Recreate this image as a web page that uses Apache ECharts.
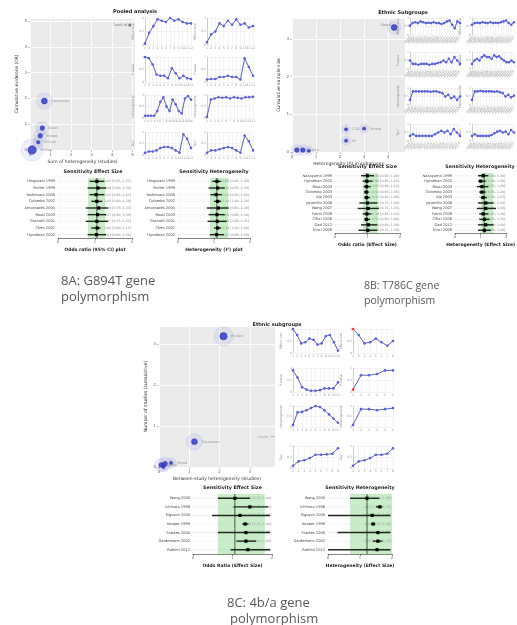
<!DOCTYPE html>
<html>
<head>
<meta charset="utf-8">
<script src="https://cdn.jsdelivr.net/npm/echarts@6/dist/echarts.min.js"></script>
<style>
  html, body { margin: 0; background: #fff; }
  #main { width: 517px; height: 625px; }
  #err { position: absolute; left: 0; top: 0; font: 14px monospace; color: red; white-space: pre-wrap; width: 517px; }
</style>
</head>
<body>
<div id="main"></div>
<div id="err"></div>
<script>
// ---------- data ----------
// bubble plots: [x, y, count]
const scatterA = [[0.1, 0, 5], [0.7, 1.9, 3], [0.6, 0.85, 2], [0.5, 0.55, 2], [0.4, 0.3, 1]];
const scatterAnames = ['Pooled', 'Caucasian', 'Asian', 'Mixed', 'African'];
const scatterB = [[0.2, 0.05, 2], [0.45, 0.05, 2], [0.7, 0.03, 1], [2.25, 0.6, 1], [2.25, 0.3, 1], [3.0, 0.62, 1], [4.25, 3.3, 3]];
const scatterBnames = ['', 'Asian', '', 'CAD', 'MI', 'Stroke', ''];
const scatterC = [[2.13, 3.2, 4], [1.17, 0.62, 3], [0.07, 0.05, 2], [0.2, 0.08, 2], [0.4, 0.1, 1], [0.15, 0, 1]];
const scatterCnames = ['Pooled', 'Caucasian', 'Asian', '', 'Mixed', ''];

// small multiples (cumulative trends), 8 per panel: row by row, left then right
const trendsA = [
  [0.05, 0.45, 0.7, 0.95, 0.9, 0.85, 1.0, 0.9, 0.95, 0.85, 0.8, 0.8],
  [0.1, 0.4, 0.5, 0.8, 0.7, 0.9, 0.75, 0.95, 0.75, 0.8, 0.65, 0.7],
  [1.0, 0.95, 0.7, 0.3, 0.25, 0.25, 0.15, 0.55, 0.35, 0.15, 0.25, 0.15, 0.12],
  [0.1, 0.12, 0.12, 0.2, 0.2, 0.25, 0.2, 0.2, 0.1, 0.95, 0.6, 0.25],
  [0.1, 0.1, 0.1, 0.1, 0.3, 0.7, 0.9, 0.5, 0.3, 0.8, 0.6, 0.3, 0.2, 0.85, 0.95, 0.8],
  [0.05, 0.8, 0.85, 0.9, 0.88, 0.9, 0.85, 0.9, 0.88, 0.85, 0.9, 0.9, 0.92],
  [0.1, 0.15, 0.15, 0.2, 0.3, 0.35, 0.35, 0.3, 0.2, 0.1, 0.9, 0.7, 0.3],
  [0.1, 0.2, 0.2, 0.25, 0.3, 0.35, 0.3, 0.2, 0.1, 0.85, 0.6, 0.2]
];
const trendsB = [
  [0.55, 0.7, 0.75, 0.7, 0.8, 0.75, 0.7, 0.72, 0.7, 0.75, 0.7, 0.7, 0.65, 0.7, 0.8, 0.85, 0.6, 0.4, 0.8, 0.7],
  [0.6, 0.7, 0.72, 0.7, 0.75, 0.72, 0.7, 0.75, 0.7, 0.72, 0.7, 0.75, 0.8, 0.85, 0.7, 0.6, 0.75],
  [0.5, 0.3, 0.3, 0.25, 0.3, 0.3, 0.3, 0.25, 0.3, 0.3, 0.35, 0.4, 0.5, 0.4, 0.6, 0.4, 0.7, 0.5, 0.3],
  [0.3, 0.5, 0.6, 0.5, 0.7, 0.8, 0.7, 0.7, 0.6, 0.8, 0.7, 0.75, 0.6, 0.5, 0.4, 0.4, 0.5, 0.4],
  [0.3, 0.8, 0.8, 0.8, 0.8, 0.8, 0.8, 0.78, 0.8, 0.8, 0.75, 0.7, 0.5, 0.6, 0.4, 0.5, 0.3, 0.5],
  [0.3, 0.8, 0.8, 0.82, 0.8, 0.8, 0.8, 0.8, 0.78, 0.8, 0.75, 0.7, 0.5, 0.6, 0.45, 0.55],
  [0.3, 0.4, 0.3, 0.3, 0.3, 0.3, 0.3, 0.3, 0.4, 0.5, 0.6, 0.5, 0.6, 0.4, 0.7, 0.5, 0.3],
  [0.3, 0.4, 0.3, 0.3, 0.3, 0.3, 0.3, 0.35, 0.45, 0.55, 0.6, 0.5, 0.55, 0.4, 0.65, 0.5]
];
const trendsC = [
  [1.0, 0.75, 0.4, 0.45, 0.6, 0.55, 0.35, 0.4, 0.7, 0.75, 0.45, 0.1],
  [1.0, 0.75, 0.4, 0.45, 0.6, 0.45, 0.3, 0.5],
  [0.9, 0.6, 0.2, 0.1, 0.05, 0.05, 0.08, 0.15, 0.15, 0.15, 0.4],
  [0.1, 0.7, 0.7, 0.75, 0.9, 0.9],
  [0.1, 0.7, 0.72, 0.8, 0.9, 1.0, 0.95, 0.8, 0.6, 0.4, 0.2],
  [0.1, 0.85, 0.85, 0.8, 0.85, 0.9],
  [0.1, 0.3, 0.35, 0.45, 0.6, 0.6, 0.62, 0.65, 0.9],
  [0.1, 0.3, 0.35, 0.45, 0.6, 0.6, 0.65, 0.9]
];
const trendNames = ['Effect size', 'P value', 'Heterogeneity', 'Tau\u00b2'];

// forest plots (sensitivity, one study omitted)
const forestAstudies = ['Hingorani 1999', 'Poirier 1999', 'Yoshimura 2000', 'Colombo 2002', 'Antoniades 2005', 'Rossi 2003', 'Granath 2001', 'Chen 2007', 'Hyndman 2002'];
const forestAest = [1.05, 1.08, 1.03, 1.05, 1.1, 1.07, 1.05, 1.06, 1.04];
const forestAlo = [0.85, 0.8, 0.85, 0.9, 0.75, 0.8, 0.75, 0.9, 0.8];
const forestAhi = [1.25, 1.3, 1.25, 1.2, 1.35, 1.3, 1.35, 1.15, 1.3];
const forestAhetEst = [1.08, 1.1, 1.06, 1.1, 1.12, 1.08, 1.09, 1.1, 1.07];
const forestAhetLo = [0.95, 0.85, 0.9, 1.0, 0.8, 0.85, 0.82, 1.0, 0.88];
const forestAhetHi = [1.2, 1.3, 1.22, 1.2, 1.4, 1.3, 1.35, 1.2, 1.28];

const forestBstudies = ['Nakayama 1999', 'Hyndman 2002', 'Rossi 2003', 'Colombo 2003', 'Alp 2003', 'Jaramillo 2006', 'Wang 2007', 'Fatini 2008', 'Ciftci 2008', 'Gad 2012', 'Kincl 2009'];
const forestBest = [1.0, 0.98, 0.97, 0.96, 0.97, 1.0, 1.02, 0.98, 0.97, 1.03, 1.01];
const forestBlo = [0.8, 0.85, 0.88, 0.9, 0.9, 0.75, 0.7, 0.85, 0.9, 0.8, 0.72];
const forestBhi = [1.2, 1.15, 1.1, 1.05, 1.08, 1.3, 1.35, 1.12, 1.08, 1.3, 1.3];
const forestBhetEst = [1.1, 1.0, 1.05, 1.05, 1.1, 1.2, 1.2, 1.1, 1.15, 1.2, 1.15];
const forestBhetLo = [0.9, 0.9, 0.85, 0.95, 1.0, 0.9, 0.85, 0.95, 0.95, 0.9, 0.9];
const forestBhetHi = [1.3, 1.2, 1.3, 1.2, 1.25, 1.5, 1.6, 1.3, 1.35, 1.5, 1.4];

const forestCstudies = ['Wang 2000', 'Ichihara 1998', 'Sigusch 2000', 'Hooper 1999', 'Fowkes 2000', 'Gardemann 2002', 'Rahimi 2012'];
const forestCest = [1.06, 1.44, 1.19, 1.32, 1.34, 1.34, 1.39];
const forestClo = [0.63, 1.02, 0.48, 1.25, 0.63, 1.1, 0.95];
const forestChi = [1.44, 1.9, 1.95, 1.4, 1.95, 1.6, 1.95];
const forestChetEst = [1.22, 1.62, 1.38, 1.41, 1.56, 1.56, 1.53];
const forestChetLo = [0.69, 1.5, 0.0, 1.35, 0.3, 1.4, 0.0];
const forestChetHi = [1.6, 1.7, 1.95, 1.48, 1.95, 1.7, 1.95];

// ---------- builders ----------
const grids = [], xAxes = [], yAxes = [], series = [], graphics = [];
const tiny = { fontFamily: 'DejaVu Sans', color: '#666' };

function text(x, y, str, size, opts) {
  graphics.push({
    type: 'text', x: x, y: y, silent: true,
    style: Object.assign({
      text: str, fontSize: size, fontFamily: 'DejaVu Sans', fill: '#222',
      align: 'center', verticalAlign: 'middle'
    }, opts || {})
  });
}

function bubble(o) {
  const g = grids.length;
  grids.push({ left: o.left, top: o.top, width: o.w, height: o.h, show: true, backgroundColor: '#ebebeb', borderWidth: 0 });
  const xi = xAxes.length, yi = yAxes.length;
  xAxes.push({
    gridIndex: g, type: 'value', min: 0, max: o.xmax, interval: 1,
    axisLine: { show: false }, axisTick: { show: true, length: 2, lineStyle: { color: '#888', width: 0.5 } },
    axisLabel: Object.assign({ fontSize: 4, margin: 3, showMaxLabel: false }, tiny),
    splitLine: { show: true, lineStyle: { color: '#fff', width: 0.9 } },
    name: o.xname, nameLocation: 'middle', nameGap: 9,
    nameTextStyle: { fontSize: 4.5, color: '#333', fontFamily: 'DejaVu Sans' }
  });
  yAxes.push({
    gridIndex: g, type: 'value', min: 0, max: o.ymax, interval: 1,
    axisLine: { show: false }, axisTick: { show: true, length: 2, lineStyle: { color: '#888', width: 0.5 } },
    axisLabel: Object.assign({ fontSize: 4, margin: 3, showMaxLabel: false }, tiny),
    splitLine: { show: true, lineStyle: { color: '#fff', width: 0.9 } },
    name: o.yname, nameLocation: 'middle', nameRotate: 90, nameGap: 11,
    nameTextStyle: { fontSize: 4.5, color: '#333', fontFamily: 'DejaVu Sans' }
  });
  series.push({
    type: 'scatter', xAxisIndex: xi, yAxisIndex: yi, silent: true, z: 2,
    data: o.pts, symbolSize: d => d[2] * o.halo + 7,
    itemStyle: { color: 'rgba(110,110,235,0.14)', borderColor: 'rgba(110,110,235,0.3)', borderWidth: 0.5 }
  });
  series.push({
    type: 'scatter', xAxisIndex: xi, yAxisIndex: yi, silent: true, z: 3,
    data: o.pts, symbolSize: d => d[2] * 1.3 + 2,
    itemStyle: { color: '#2b33c9', borderColor: '#141a7a', borderWidth: 0.5 },
    label: {
      show: true, position: 'right', distance: 4, fontSize: 3.5, color: '#888', fontFamily: 'DejaVu Sans',
      formatter: p => o.names[p.dataIndex]
    }
  });
}

function mini(left, top, w, h, vals, opt) {
  const g = grids.length;
  grids.push({ left: left, top: top, width: w, height: h, show: false });
  const xi = xAxes.length, yi = yAxes.length;
  xAxes.push({
    gridIndex: g, type: 'category', boundaryGap: false,
    data: vals.map((v, i) => String(opt.year ? 1998 + i : i + 1)),
    axisLine: { show: false }, axisTick: { show: false },
    axisLabel: Object.assign({ fontSize: 3.2, margin: 2, rotate: opt.rot || 0, interval: 0 }, tiny, { color: '#999' }),
    splitLine: { show: true, lineStyle: { color: '#e6e6e6', width: 0.5 } }
  });
  yAxes.push({
    gridIndex: g, type: 'value', min: 0, max: 1, interval: 0.5,
    axisLine: { show: true, lineStyle: { color: '#aaa', width: 0.5 } }, axisTick: { show: false },
    axisLabel: Object.assign({ fontSize: 3.2, margin: 1 }, tiny, { color: '#999' }),
    splitLine: { show: true, lineStyle: { color: '#e6e6e6', width: 0.5 } },
    name: opt.name, nameLocation: 'middle', nameRotate: 90, nameGap: 6,
    nameTextStyle: { fontSize: 3.2, color: '#888', fontFamily: 'DejaVu Sans' }
  });
  series.push({
    type: 'line', xAxisIndex: xi, yAxisIndex: yi, silent: true,
    data: vals.map((v, i) => (opt.redFirst && i === 0) ? { value: v, itemStyle: { color: '#e8403a' } } : v),
    symbol: 'circle', symbolSize: 2.6, showSymbol: true,
    lineStyle: { color: '#363a8e', width: 0.8 },
    itemStyle: { color: '#5862d6' }
  });
}

function forest(o) {
  const g = grids.length;
  grids.push({ left: o.left, top: o.top, width: o.w, height: o.h, show: false });
  const xi = xAxes.length, yi = yAxes.length;
  const notes = o.est.map((e, i) => e.toFixed(2) + ' [' + o.lo[i].toFixed(2) + ', ' + o.hi[i].toFixed(2) + ']');
  xAxes.push({
    gridIndex: g, type: 'value', min: 0, max: 2, interval: 1,
    axisLine: { show: true, lineStyle: { color: '#333', width: 0.6 } },
    axisTick: { show: true, length: 2, lineStyle: { color: '#333', width: 0.5 } },
    axisLabel: Object.assign({ fontSize: 3.8, margin: 2 }, tiny),
    splitLine: { show: false },
    name: o.xname, nameLocation: 'middle', nameGap: 9,
    nameTextStyle: { fontSize: 4.5, fontWeight: 'bold', color: '#222', fontFamily: 'DejaVu Sans' }
  });
  yAxes.push({
    gridIndex: g, type: 'category', inverse: true, data: o.labels,
    axisLine: { show: false }, axisTick: { show: false },
    axisLabel: Object.assign({ fontSize: 3.6, margin: 3, interval: 0 }, tiny, { color: '#444' })
  });
  yAxes.push({
    gridIndex: g, type: 'category', inverse: true, position: 'right', data: notes,
    axisLine: { show: false }, axisTick: { show: false },
    axisLabel: Object.assign({ fontSize: 3.2, margin: 1, inside: true, interval: 0 }, tiny, { color: '#888' })
  });
  const band = o.band, ref = o.ref;
  series.push({
    type: 'custom', xAxisIndex: xi, yAxisIndex: yi, silent: true,
    data: o.est.map((e, i) => [i, e, o.lo[i], o.hi[i]]),
    encode: { y: 0, x: [1, 2, 3] },
    renderItem: (params, api) => {
      const cs = params.coordSys;
      const row = api.value(0);
      const c = api.coord([api.value(1), row]);
      const l = api.coord([api.value(2), row]);
      const r = api.coord([api.value(3), row]);
      const b0 = api.coord([band[0], row]);
      const b1 = api.coord([band[1], row]);
      const rf = api.coord([ref, row]);
      const hh = api.size([0, 1])[1];
      return {
        type: 'group', children: [
          { type: 'rect', shape: { x: b0[0], y: c[1] - hh / 2, width: b1[0] - b0[0], height: hh },
            style: { fill: 'rgba(110,205,110,0.38)' } },
          { type: 'line', shape: { x1: cs.x, y1: c[1], x2: cs.x + cs.width, y2: c[1] },
            style: { stroke: '#cfcfcf', lineWidth: 0.5, lineDash: [1, 1] } },
          { type: 'line', shape: { x1: rf[0], y1: c[1] - hh / 2, x2: rf[0], y2: c[1] + hh / 2 },
            style: { stroke: '#111', lineWidth: 0.7 } },
          { type: 'line', shape: { x1: l[0], y1: c[1], x2: r[0], y2: c[1] },
            style: { stroke: '#1e2a1e', lineWidth: 1.4 } },
          { type: 'rect', shape: { x: c[0] - 1.6, y: c[1] - 1.6, width: 3.2, height: 3.2 },
            style: { fill: '#000' } }
        ]
      };
    }
  });
  text(o.left + o.w / 2 + (o.titleShift || 0), o.top - 6, o.title, 4.8, { fontWeight: 'bold' });
}

try {
// ---------- panel 8A ----------
text(135, 12, 'Pooled analysis', 5, { fontWeight: 'bold' });
bubble({ left: 30, top: 18, w: 105, h: 132, xmax: 5.12, ymax: 5.12, pts: scatterA, names: scatterAnames, halo: 3,
  xname: 'Sum of heterogeneity (studies)', yname: 'Cumulative evidence (OR)' });
text(122, 25, 'Count of \u25a0', 3.5, { fill: '#777' });
const colA = [145, 207], rowA = [[18, 27], [57, 25], [95, 23], [132, 23]];
trendsA.forEach((t, k) => {
  mini(colA[k % 2], rowA[k >> 1][0], 46, rowA[k >> 1][1], t, { name: trendNames[k >> 1] });
});
forest({ left: 58, top: 178, w: 74, h: 60, labels: forestAstudies, est: forestAest, lo: forestAlo, hi: forestAhi,
  band: [0.81, 1.27], ref: 1.05, title: 'Sensitivity Effect Size', xname: 'Odds ratio (95% CI) plot', titleShift: -2 });
forest({ left: 178, top: 178, w: 72, h: 60, labels: forestAstudies, est: forestAhetEst, lo: forestAhetLo, hi: forestAhetHi,
  band: [0.89, 1.39], ref: 1.08, title: 'Sensitivity Heterogeneity', xname: 'Heterogeneity (I\u00b2) plot' });

// ---------- panel 8B ----------
text(403, 13, 'Ethnic Subgroups', 5, { fontWeight: 'bold' });
bubble({ left: 292, top: 18, w: 113, h: 134, xmax: 4.7, ymax: 3.55, pts: scatterB, names: scatterBnames, halo: 2,
  xname: 'Heterogeneity (I\u00b2) in subgroups', yname: 'Cumulative sample size' });
text(386, 25, 'Count', 3.5, { fill: '#777' });
const colB = [410, 472], rowB = [18, 52, 88, 124];
trendsB.forEach((t, k) => {
  mini(colB[k % 2], rowB[k >> 1], 50, 17, t, { name: trendNames[k >> 1], rot: 50, year: true });
});
forest({ left: 335, top: 173, w: 65, h: 60, labels: forestBstudies, est: forestBest, lo: forestBlo, hi: forestBhi,
  band: [0.86, 1.32], ref: 0.98, title: 'Sensitivity Effect Size', xname: 'Odds ratio (Effect Size)' });
forest({ left: 455, top: 173, w: 70, h: 60, labels: forestBstudies, est: forestBhetEst, lo: forestBhetLo, hi: forestBhetHi,
  band: [1.0, 1.49], ref: 1.14, title: 'Sensitivity Heterogeneity', xname: 'Heterogeneity (Effect Size)', titleShift: -10 });

// ---------- panel 8C ----------
text(277, 325, 'Ethnic subgroups', 5, { fontWeight: 'bold' });
bubble({ left: 159, top: 326, w: 116, h: 141, xmax: 3.83, ymax: 3.45, pts: scatterC, names: scatterCnames, halo: 3,
  xname: 'Between-study heterogeneity (studies)', yname: 'Number of studies (cumulative)' });
text(266, 437, 'Count  \u2501\u2501', 3.5, { fill: '#999' });
const colC = [293, 353], rowC = [[329, 24], [368, 24], [406, 21], [446, 22]];
trendsC.forEach((t, k) => {
  mini(colC[k % 2], rowC[k >> 1][0], k % 2 ? 40 : 45, rowC[k >> 1][1], t,
    { name: trendNames[k >> 1], redFirst: (k === 1 || k === 3) });
});
forest({ left: 193, top: 494, w: 79, h: 60, labels: forestCstudies, est: forestCest, lo: forestClo, hi: forestChi,
  band: [0.63, 1.82], ref: 1.06, title: 'Sensitivity Effect Size', xname: 'Odds Ratio (Effect Size)' });
forest({ left: 328, top: 494, w: 64, h: 60, labels: forestCstudies, est: forestChetEst, lo: forestChetLo, hi: forestChetHi,
  band: [0.69, 2.0], ref: 1.22, title: 'Sensitivity Heterogeneity', xname: 'Heterogeneity (Effect Size)' });

// ---------- captions ----------
const capFont = { fontFamily: 'Open Sans', fill: '#595959', align: 'left' };
text(61, 281, '8A: G894T gene', 13, capFont);
text(61, 297, 'polymorphism', 13, capFont);
text(364, 286, '8B: T786C gene', 10.5, capFont);
text(364, 301, 'polymorphism', 10.5, capFont);
text(227, 603, '8C: 4b/a gene', 13, capFont);
text(230, 619, 'polymorphism', 13, capFont);

const chart = echarts.init(document.getElementById('main'));
chart.setOption({
  animation: false,
  backgroundColor: '#fff',
  grid: grids,
  xAxis: xAxes,
  yAxis: yAxes,
  series: series,
  graphic: graphics
});
} catch (e) {
  document.getElementById('err').textContent = e.stack;
}
</script>
</body>
</html>
